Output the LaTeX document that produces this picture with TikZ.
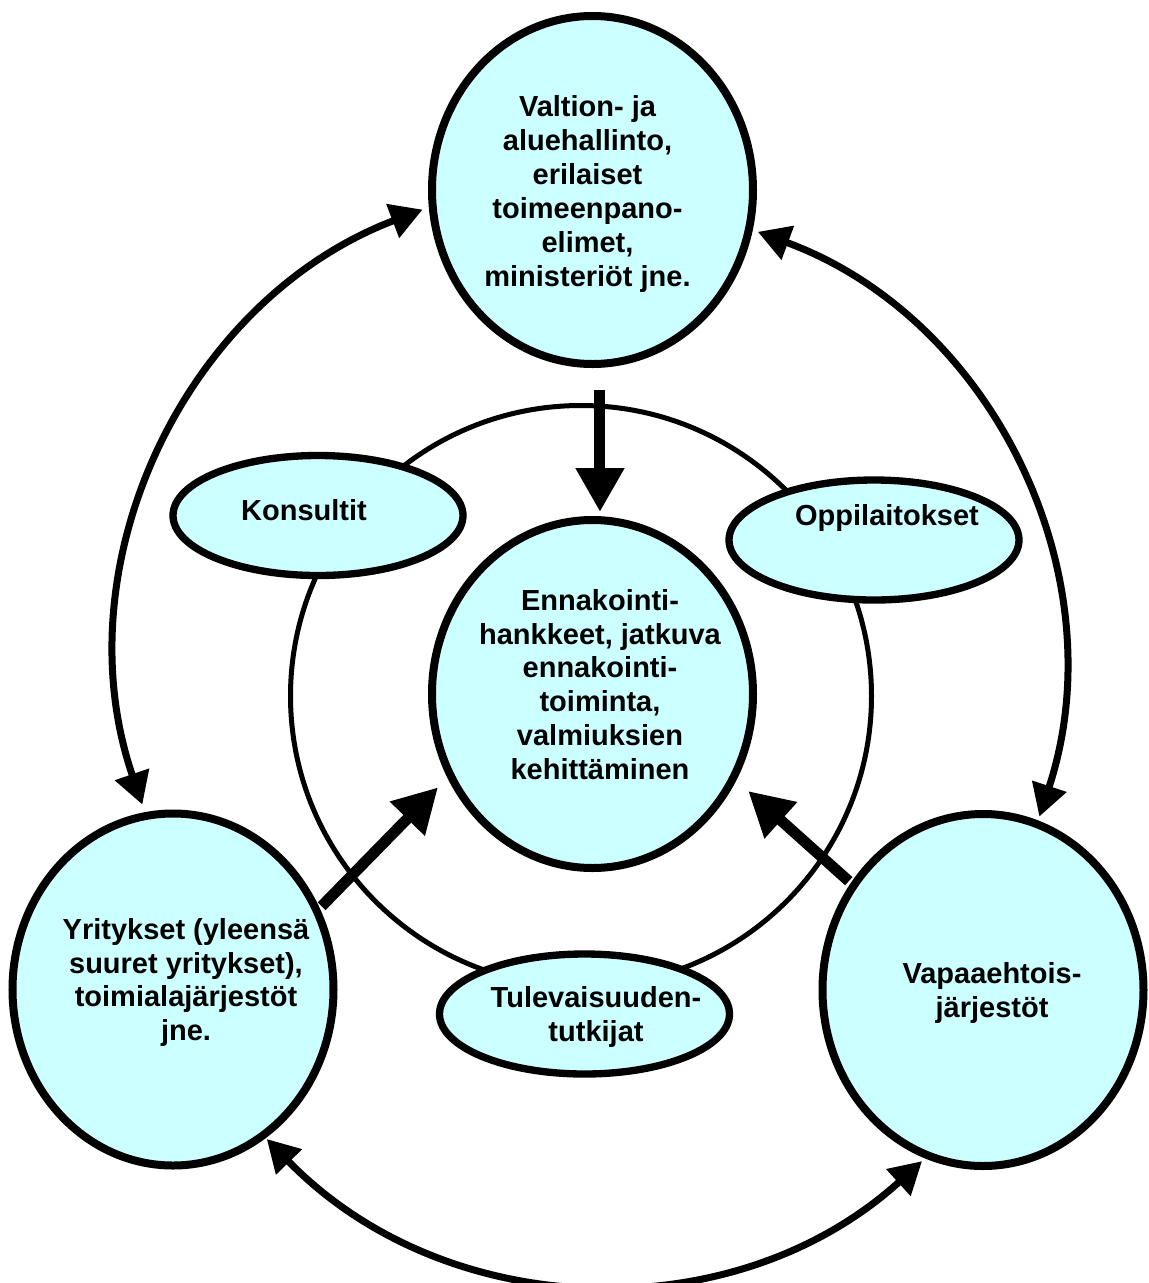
\documentclass[tikz,border=0pt]{standalone}
\usepackage{fontspec}
\setmainfont{Liberation Sans}
\usetikzlibrary{arrows.meta,shapes.geometric}
\definecolor{pale}{RGB}{204,255,255}

\begin{document}
\begin{tikzpicture}[x=0.75pt,y=-0.75pt,
  actor/.style={ellipse, draw, line width=6pt, fill=pale, inner sep=0pt,
    minimum width=240.75pt, minimum height=261pt},
  minor/.style={ellipse, draw, line width=5.5pt, fill=pale, inner sep=0pt,
    minimum width=217.5pt, minimum height=90pt},
  txt/.style={font=\bfseries\fontsize{21.75pt}{25.4pt}\selectfont, align=center, inner sep=0pt},
  feed/.style={line width=8.25pt, -{Triangle[length=33pt,width=34.5pt]}},
  link/.style={line width=5.25pt,
    {Triangle[length=24pt,width=26pt]}-{Triangle[length=24pt,width=26pt]}},
]
\useasboundingbox (0,0) rectangle (1149,1283);

% ring linking the supporting actors
\node[circle, draw, line width=3.75pt, minimum size=435.75pt, inner sep=0pt] (ring) at (581,696) {};

% supporting actors on the ring
\node[minor] (cons)   at (318,515.5) {};
\node[minor] (school) at (874,540) {};
\node[minor] (futur)  at (584.5,1014) {};

% main actors
\node[actor] (gov)   at (592.5,190) {};
\node[actor] (hub)   at (592.5,694) {};
\node[actor, minimum height=264pt] (firms) at (173,989.5) {};
\node[actor, minimum height=264pt] (ngo)   at (983,990) {};

% labels
\node[txt] (gov-t) at (587.5,194) {Valtion- ja\\aluehallinto,\\erilaiset\\toimeenpano-\\elimet,\\ministeriöt jne.};
\node[txt] (hub-t) at (600,684.5) {Ennakointi-\\hankkeet, jatkuva\\ennakointi-\\toiminta,\\valmiuksien\\kehittäminen};
\node[txt] (firms-t) at (186,982.5) {Yritykset (yleensä\\suuret yritykset),\\toimialajärjestöt\\jne.};
\node[txt] (ngo-t) at (992,993) {Vapaaehtois-\\järjestöt};
\node[txt] (cons-t) at (304,510.4) {Konsultit};
\node[txt] (school-t) at (887,518) {Oppilaitokset};
\node[txt] (futur-t) at (596,1017) {Tulevaisuuden-\\tutkijat};

% flows into the foresight activity
\draw[feed] ([xshift=5.6pt,yshift=-16.5pt]gov.south) -- ([xshift=5.6pt,yshift=3pt]hub.north);
\draw[feed, shorten >=10pt, shorten <=2pt] (firms.29.9) -- (hub.210.7);
\draw[feed, shorten >=11.9pt, shorten <=2pt] (ngo.141.8) -- (hub.329.5);

% two-way links between the main actors
\draw[link, shorten <=6pt, shorten >=5pt] (firms.99.6) to[bend left=44] (gov.186.8);
\draw[link, shorten <=4pt, shorten >=3pt] (gov.346.2) to[bend left=44] (ngo.72.4);
\draw[link, shorten <=1pt, shorten >=3pt] (firms.302) to[bend right=44] (ngo.251.2);
\end{tikzpicture}
\end{document}
